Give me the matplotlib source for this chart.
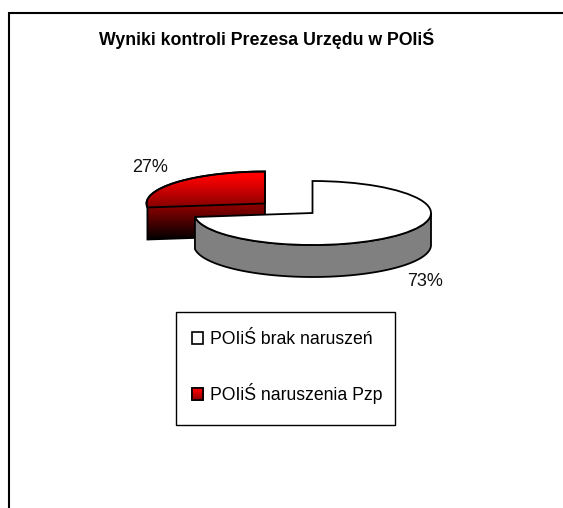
import numpy as np
import matplotlib
matplotlib.use("Agg")
import matplotlib.pyplot as plt
from matplotlib.colors import LinearSegmentedColormap
from matplotlib.patches import Patch, Polygon, Rectangle
from matplotlib.transforms import Affine2D

title = "Wyniki kontroli Prezesa Urzędu w POIiŚ"
categories = ["POIiŚ brak naruszeń", "POIiŚ naruszenia Pzp"]
values = [73, 27]
labels = ["73%", "27%"]

W, H = 563, 508
plt.rcParams["font.family"] = ["Liberation Sans", "DejaVu Sans"]
fig = plt.figure(figsize=(W / 100, H / 100), dpi=100, facecolor="white")
ax = fig.add_axes([0, 0, 1, 1])

def flip(y):
    return H - y

RX, RY, DEPTH = 118.5, 32, 32
CENTERS = [(312.5, 213), (265, 203.5)]
LW = 1.3

wedges, _ = ax.pie(values, startangle=90, counterclock=False, radius=1,
                   colors=["white", "#ff0000"], frame=True,
                   wedgeprops=dict(edgecolor="black", linewidth=LW))
ax.set_aspect("auto")
ax.axis("off")

def ell(c, t, drop=0):
    t = np.radians(t)
    return np.column_stack([c[0] + RX * np.cos(t), flip(c[1]) + RY * np.sin(t) - drop])

# angles from the values
end_white = 90 - 360 * values[0] / sum(values)   # clockwise from 12 o'clock

# white slice: grey rim on the front half
t = np.linspace(end_white, 0, 100)
rim = np.vstack([ell(CENTERS[0], t), ell(CENTERS[0], t[::-1], DEPTH)])
ax.add_patch(Polygon(rim, closed=True, fc="#808080", ec="black", lw=LW, zorder=3))

# red slice: whole silhouette filled with one vertical gradient
cm = LinearSegmentedColormap.from_list("rb", [(0, "#ff0000"), (0.08, "#ff0000"), (0.55, "#800000"), (1, "#000000")])
c = CENTERS[1]
t = np.linspace(end_white + 360, 90, 100)
top = ell(c, t)
apex = np.array([[c[0], flip(c[1])]])
drop = np.array([0, DEPTH])
sil = np.vstack([top, apex, apex - drop, top[:1] - drop])
red_poly = Polygon(sil, closed=True, fc="none", ec="black", lw=LW, zorder=2.2)
ax.add_patch(red_poly)
grad = np.linspace(0, 1, 256).reshape(-1, 1)
ymax, ymin = sil[:, 1].max(), sil[:, 1].min()
im = ax.imshow(grad, cmap=cm, extent=[sil[:, 0].min(), sil[:, 0].max(), ymin, ymax],
               origin="upper", aspect="auto", zorder=2.1, interpolation="bilinear")
im.set_clip_path(red_poly)
ax.set_xlim(0, W)
ax.set_ylim(0, H)

# top faces come from the pie wedges
wedges[1].set_facecolor("none")
for w, cc, z in zip(wedges, CENTERS, (4, 2.3)):
    w.set_transform(Affine2D().scale(RX, RY).translate(cc[0], flip(cc[1])) + ax.transData)
    w.set_zorder(z)

# value labels
ax.text(425.5, flip(281), labels[0], ha="center", va="center", fontsize=13, color="#111111")
ax.text(150, flip(167), labels[1], ha="center", va="center", fontsize=13, color="#111111")

# title
ax.text(266.5, flip(39), title, ha="center", va="center", fontsize=12.8, fontweight="bold", color="black")

# frame (open to the right and bottom)
ax.plot([9, 9, W], [0, flip(12.5), flip(12.5)], color="black", lw=1.5, zorder=1, solid_joinstyle="miter")

# legend box + legend
ax.add_patch(Rectangle((176, flip(425)), 219, 113, fc="white", ec="black", lw=1.0, zorder=4.5))
handles = [Patch(fc="white", ec="black", lw=1.2), Patch(fc="#c00000", ec="black", lw=1.2)]
leg = ax.legend(handles, categories, loc="upper left",
                bbox_to_anchor=(192 / W, 1 - 331 / H), bbox_transform=ax.transAxes,
                fontsize=12.7, frameon=False, borderaxespad=0, borderpad=0,
                labelspacing=2.0, handlelength=0.62, handleheight=0.62, handletextpad=0.4)
leg.set_zorder(5)

# gradient on the red legend key
fig.canvas.draw()
key = leg.get_patches()[1]
bb = key.get_window_extent().transformed(ax.transData.inverted())
kim = ax.imshow(np.linspace(0.05, 0.5, 64).reshape(-1, 1), cmap=cm, vmin=0, vmax=1,
                extent=[bb.x0, bb.x1, bb.y0, bb.y1], origin="upper", aspect="auto", zorder=6)
ax.add_patch(Rectangle((bb.x0, bb.y0), bb.width, bb.height, fc="none", ec="black", lw=1.2, zorder=6.1))
ax.set_xlim(0, W)
ax.set_ylim(0, H)

fig.savefig("out.png", dpi=100, facecolor="white")
